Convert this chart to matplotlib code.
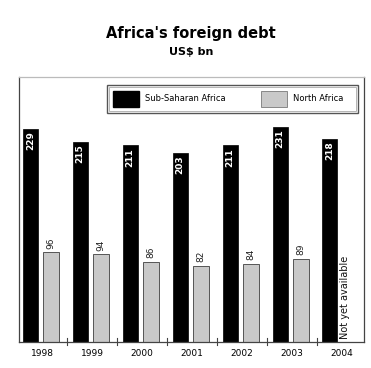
import numpy as np
import matplotlib.pyplot as plt
from matplotlib.patches import Rectangle

# Foreign debt, US$ bn
years = ["1998", "1999", "2000", "2001", "2002", "2003", "2004"]
sub_saharan = [229, 215, 211, 203, 211, 231, 218]
north_africa = [96, 94, 86, 82, 84, 89]  # 2004 not yet available

x = np.arange(len(years))
narrow = ["Liberation Sans Narrow", "DejaVu Sans"]

fig = plt.figure(figsize=(3.71, 3.68), dpi=100)
ax = fig.add_axes([0.052, 0.071, 0.929, 0.721])

black_bars = ax.bar(x - 0.24, sub_saharan, width=0.30, color="black",
                    edgecolor="black", linewidth=0.5)
grey_bars = ax.bar(x[:len(north_africa)] + 0.18, north_africa, width=0.32,
                   color="#c9c9c9", edgecolor="#555555", linewidth=0.7)

for bar, v in zip(black_bars, sub_saharan):
    ax.text(bar.get_x() + bar.get_width() / 2, v - 3, str(v), rotation=90,
            ha="center", va="top", color="white", fontsize=6.5,
            fontweight="bold", family=narrow)

for bar, v in zip(grey_bars, north_africa):
    ax.text(bar.get_x() + bar.get_width() / 2, v + 4, str(v), rotation=90,
            ha="center", va="bottom", color="#222222", fontsize=6.5,
            family=narrow)

ax.text(6.06, 3, "Not yet available", rotation=90, ha="center", va="bottom",
        fontsize=7, color="#111111", family=narrow)

ax.set_xlim(-0.46, 6.44)
ax.set_ylim(0, 285)
ax.set_yticks([])
ax.set_xticks(x)
ax.set_xticklabels(years, fontsize=6.5, family=narrow)
ax.tick_params(axis="x", length=0, pad=5)
# short separators between the years
for b in x[:-1] + 0.5:
    ax.plot([b, b], [-3, 4], color="#444444", lw=0.8, clip_on=False)

for side in ["left", "right", "bottom"]:
    ax.spines[side].set_color("#444444")
    ax.spines[side].set_linewidth(0.9)
ax.spines["top"].set_color("#bbbbbb")
ax.spines["top"].set_linewidth(0.9)

# legend box
ax.add_patch(Rectangle((1.30, 246), 5.02, 30, facecolor="white",
                       edgecolor="#555555", lw=1.0))
ax.add_patch(Rectangle((1.34, 248.5), 4.94, 25, facecolor="white",
                       edgecolor="#aaaaaa", lw=0.6))
ax.add_patch(Rectangle((1.42, 252), 0.52, 18, facecolor="black",
                       edgecolor="black"))
ax.text(2.06, 261, "Sub-Saharan Africa", fontsize=6, va="center",
        family=narrow)
ax.add_patch(Rectangle((4.38, 252), 0.52, 18, facecolor="#c9c9c9",
                       edgecolor="#888888", lw=0.7))
ax.text(5.02, 261, "North Africa", fontsize=6, va="center", family=narrow)

fig.text(0.515, 0.908, "Africa's foreign debt", ha="center", va="center",
         fontsize=10.5, fontweight="bold")
fig.text(0.515, 0.858, "US$ bn", ha="center", va="center",
         fontsize=8, fontweight="bold")

fig.savefig("out.png", dpi=100)
